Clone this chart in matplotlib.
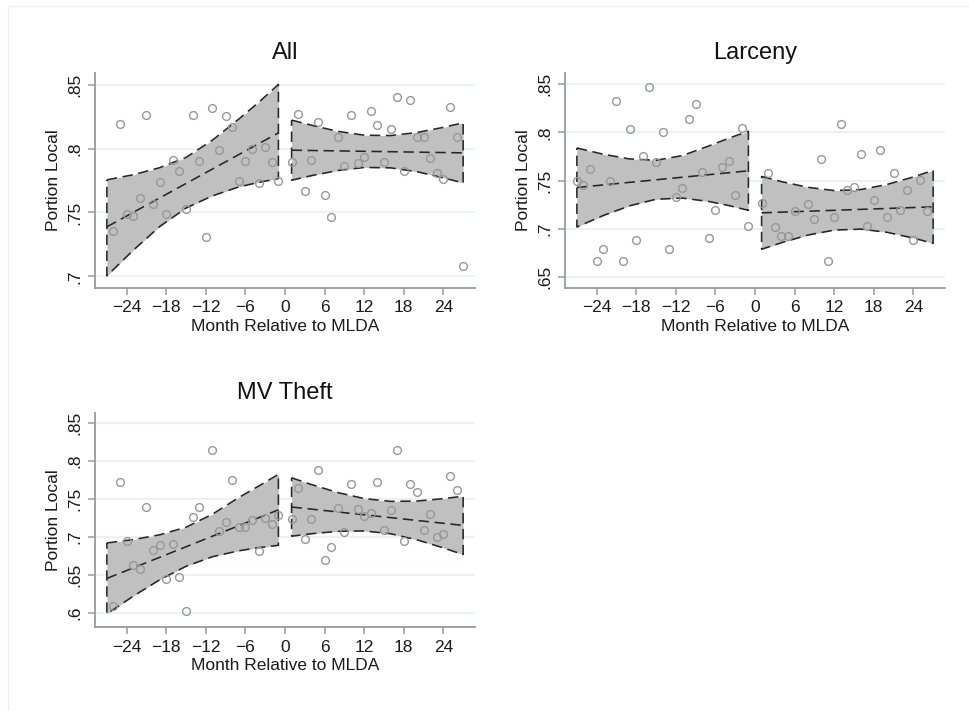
import matplotlib
matplotlib.use("Agg")
import matplotlib.pyplot as plt
from matplotlib.lines import Line2D
import numpy as np

plt.rcParams['font.family'] = ['Liberation Sans', 'DejaVu Sans']

# scatter data: month relative to MLDA and portion of local arrests
all_pre_m = list(range(-26, 0))
all_pre_y = [0.7357, 0.8195, 0.7487, 0.7471, 0.7617, 0.8258, 0.7565, 0.7737, 0.7487,
             0.7914, 0.7826, 0.7529, 0.8258, 0.7904, 0.7310, 0.8315, 0.7992, 0.8253,
             0.8169, 0.7747, 0.7904, 0.8000, 0.7732, 0.8008, 0.7896, 0.7747]
all_post_m = list(range(1, 28))
all_post_y = [0.7896, 0.8266, 0.7667, 0.7914, 0.8208, 0.7633, 0.7461, 0.8091, 0.7862,
              0.8258, 0.7883, 0.7930, 0.8292, 0.8180, 0.7891, 0.8151, 0.8406, 0.7828,
              0.8380, 0.8091, 0.8086, 0.7927, 0.7812, 0.7758, 0.8323, 0.8091, 0.7083]

lar_pre_m = list(range(-27, 0))
lar_pre_y = [0.7498, 0.7453, 0.7620, 0.6666, 0.6788, 0.7498, 0.8330, 0.6666, 0.8036,
             0.6888, 0.7755, 0.8476, 0.7696, 0.8001, 0.6788, 0.7332, 0.7419, 0.8136,
             0.8295, 0.7592, 0.6909, 0.7193, 0.7644, 0.7706, 0.7349, 0.8042, 0.7030]
lar_post_m = [1, 2, 3, 4, 5, 6, 8, 9, 10, 11, 12, 13, 14, 15, 16, 17, 18, 19, 20,
              21, 22, 23, 24, 25, 26]
lar_post_y = [0.7263, 0.7575, 0.7020, 0.6926, 0.6926, 0.7186, 0.7256, 0.7107, 0.7727,
              0.6666, 0.7124, 0.8084, 0.7401, 0.7436, 0.7776, 0.7030, 0.7304, 0.7817,
              0.7124, 0.7581, 0.7200, 0.7401, 0.6888, 0.7505, 0.7186]

mv_pre_m = [-26, -25, -24, -23, -22, -21, -20, -19, -18, -17, -16, -15, -14, -13,
            -11, -10, -9, -8, -7, -6, -5, -4, -3, -2, -1]
mv_pre_y = [0.6092, 0.7724, 0.6947, 0.6627, 0.6583, 0.7395, 0.6825, 0.6890, 0.6443,
            0.6912, 0.6474, 0.6026, 0.7263, 0.7395, 0.8140, 0.7079, 0.7193, 0.7754,
            0.7132, 0.7132, 0.7228, 0.6816, 0.7254, 0.7175, 0.7285]
mv_post_m = list(range(1, 27))
mv_post_y = [0.7241, 0.7649, 0.6978, 0.7241, 0.7877, 0.6693, 0.6868, 0.7386, 0.7066,
             0.7702, 0.7364, 0.7272, 0.7320, 0.7724, 0.7088, 0.7351, 0.8140, 0.6947,
             0.7702, 0.7588, 0.7096, 0.7307, 0.7000, 0.7044, 0.7807, 0.7614]

# linear fits with 95% bands, on each side of the cutoff
band_pre_m = [-27, -23, -19, -15, -11, -7, -4, -1]
band_post_m = [1, 4, 8, 12, 16, 20, 24, 27]

all_pre_fit = [0.7388, 0.8122]
all_pre_hi = [0.7755, 0.7795, 0.7850, 0.7930, 0.8065, 0.8230, 0.8360, 0.8500]
all_pre_lo = [0.7005, 0.7205, 0.7390, 0.7535, 0.7630, 0.7700, 0.7735, 0.7765]
all_post_fit = [0.7987, 0.7966]
all_post_hi = [0.8222, 0.8182, 0.8134, 0.8104, 0.8101, 0.8125, 0.8165, 0.8201]
all_post_lo = [0.7752, 0.7788, 0.7828, 0.7852, 0.7849, 0.7819, 0.7771, 0.7731]

lar_pre_fit = [0.7429, 0.7602]
lar_pre_hi = [0.7839, 0.7774, 0.7725, 0.7711, 0.7760, 0.7860, 0.7940, 0.8012]
lar_pre_lo = [0.7019, 0.7138, 0.7239, 0.7307, 0.7319, 0.7284, 0.7242, 0.7192]
lar_post_fit = [0.7166, 0.7228]
lar_post_hi = [0.7544, 0.7490, 0.7431, 0.7397, 0.7407, 0.7460, 0.7538, 0.7606]
lar_post_lo = [0.6788, 0.6856, 0.6935, 0.6987, 0.6997, 0.6964, 0.6904, 0.6850]

mv_pre_fit = [0.6455, 0.7358]
mv_pre_hi = [0.6922, 0.6966, 0.7029, 0.7129, 0.7300, 0.7520, 0.7670, 0.7825]
mv_pre_lo = [0.5988, 0.6222, 0.6437, 0.6615, 0.6741, 0.6819, 0.6860, 0.6891]
mv_post_fit = [0.7395, 0.7153]
mv_post_hi = [0.7779, 0.7691, 0.7585, 0.7506, 0.7469, 0.7473, 0.7505, 0.7537]
mv_post_lo = [0.7011, 0.7043, 0.7075, 0.7080, 0.7043, 0.6963, 0.6857, 0.6769]

x_ticks = [-24, -18, -12, -6, 0, 6, 12, 18, 24]

W, H = 969, 711
fig = plt.figure(figsize=(W / 100, H / 100), dpi=100)

AXIS_C = '#9a9a9a'
GRID_C = '#e6eff0'
DASH = (0, (6.5, 3.5))


def draw_band(ax, months, hi, lo, fit):
    ax.fill_between(months, lo, hi, color='#c0c0c0', lw=0, zorder=2)
    # outline of the band, closed at both ends
    ox = list(months) + list(months[::-1]) + [months[0]]
    oy = list(hi) + list(lo[::-1]) + [hi[0]]
    ax.plot(ox, oy, color='#262626', lw=1.15, ls=DASH, zorder=3)
    ax.plot([months[0], months[-1]], fit, color='#262626', lw=1.15, ls=DASH, zorder=3)


def panel(rect, title, ylim, yticks, ylabels, pre, post):
    ax = fig.add_axes([rect[0] / W, 1 - rect[3] / H,
                       (rect[2] - rect[0]) / W, (rect[3] - rect[1]) / H])
    for months, hi, lo, fit in [(band_pre_m,) + pre[2:], (band_post_m,) + post[2:]]:
        draw_band(ax, months, hi, lo, fit)
    for m, y in [(pre[0], pre[1]), (post[0], post[1])]:
        ax.plot(m, y, 'o', ms=5.6, mfc='none', mec='#979797', mew=1.0, zorder=4)

    ax.set_xlim(-28.8, 28.8)
    ax.set_ylim(*ylim)
    ax.set_xticks(x_ticks)
    ax.set_yticks(yticks)
    ax.set_yticklabels(ylabels, rotation=90, va='center')
    ax.tick_params(axis='both', colors=AXIS_C, labelcolor='#1a1a1a',
                   labelsize=12.5, length=5, width=1.1)
    ax.tick_params(axis='y', pad=4)
    ax.tick_params(axis='x', pad=4)
    ax.grid(axis='y', color=GRID_C, lw=1.1, zorder=0)
    ax.set_axisbelow(True)
    for s in ['top', 'right']:
        ax.spines[s].set_visible(False)
    for s in ['left', 'bottom']:
        ax.spines[s].set_color(AXIS_C)
        ax.spines[s].set_linewidth(1.3)

    h = rect[3] - rect[1]
    w = rect[2] - rect[0]
    ax.text(0.5, 1 + 20 / h, title, transform=ax.transAxes, ha='center', va='center',
            fontsize=17, color='#111111')
    ax.text(0.5, -38.5 / h, 'Month Relative to MLDA', transform=ax.transAxes,
            ha='center', va='center', fontsize=12.5, color='#1a1a1a')
    ax.text(-42 / w, 0.5, 'Portion Local', transform=ax.transAxes, rotation=90,
            ha='center', va='center', fontsize=12.5, color='#1a1a1a')
    return ax


panel((95, 73, 475, 288), 'All', (0.691, 0.859),
      [0.7, 0.75, 0.8, 0.85], ['.7', '.75', '.8', '.85'],
      (all_pre_m, all_pre_y, all_pre_hi, all_pre_lo, all_pre_fit),
      (all_post_m, all_post_y, all_post_hi, all_post_lo, all_post_fit))

panel((565, 73, 945, 288), 'Larceny', (0.6386, 0.8617),
      [0.65, 0.7, 0.75, 0.8, 0.85], ['.65', '.7', '.75', '.8', '.85'],
      (lar_pre_m, lar_pre_y, lar_pre_hi, lar_pre_lo, lar_pre_fit),
      (lar_post_m, lar_post_y, lar_post_hi, lar_post_lo, lar_post_fit))

panel((95, 413, 475, 627), 'MV Theft', (0.5816, 0.8632),
      [0.6, 0.65, 0.7, 0.75, 0.8, 0.85], ['.6', '.65', '.7', '.75', '.8', '.85'],
      (mv_pre_m, mv_pre_y, mv_pre_hi, mv_pre_lo, mv_pre_fit),
      (mv_post_m, mv_post_y, mv_post_hi, mv_post_lo, mv_post_fit))

# faint outer frame of the combined graph
fig.add_artist(Line2D([8 / W, 8 / W], [0, 1 - 6 / H], color='#f0f0f0', lw=1))
fig.add_artist(Line2D([8 / W, 1], [1 - 6 / H, 1 - 6 / H], color='#f0f0f0', lw=1))

fig.savefig('out.png', dpi=100)
